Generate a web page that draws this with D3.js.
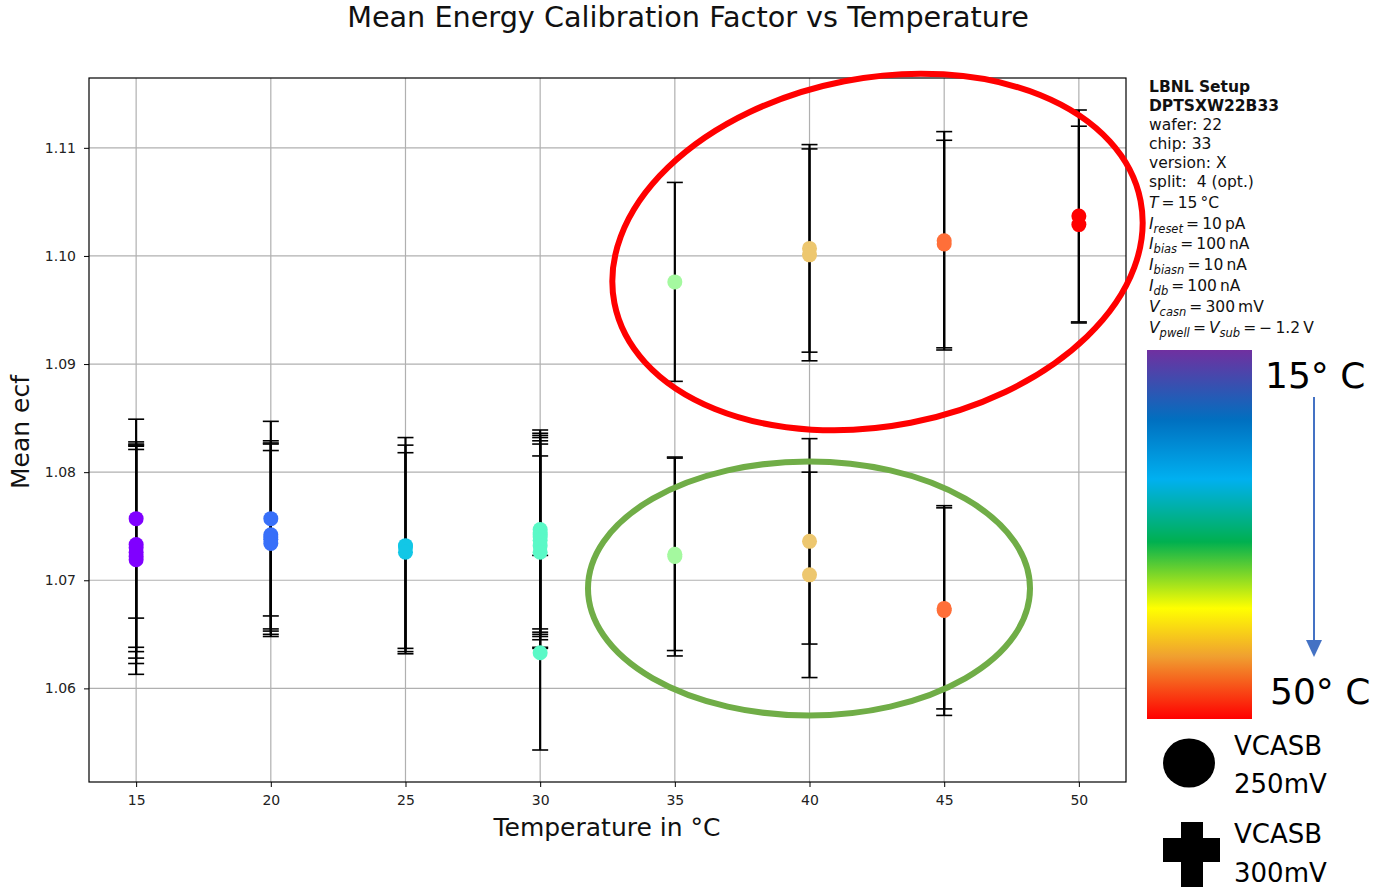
<!DOCTYPE html>
<html>
<head>
<meta charset="utf-8">
<script src="https://cdn.jsdelivr.net/npm/d3@7"></script>
<style>
body { margin: 0; background: #fff; }
#vis { width: 1376px; height: 887px; }
text { font-family: 'DejaVu Sans', sans-serif; }
</style>
</head>
<body>
<div id="vis"></div>
<script>
// measurements: one entry per error bar
var pointTemp = [15, 15, 15, 15, 15, 15,
	20, 20, 20, 20, 20,
	25, 25, 25,
	30, 30, 30, 30, 30, 30, 30, 30,
	35, 35, 35,
	40, 40, 40, 40,
	45, 45, 45, 45,
	50, 50];
var pointMean = [1.0757, 1.0733, 1.0730, 1.0726, 1.0722, 1.0719,
	1.0757, 1.0742, 1.0740, 1.0738, 1.0734,
	1.0732, 1.0731, 1.0726,
	1.0747, 1.0744, 1.0742, 1.0740, 1.0737, 1.0732, 1.0726, 1.0633,
	1.0976, 1.0724, 1.0722,
	1.1007, 1.1001, 1.0736, 1.0705,
	1.1014, 1.1011, 1.0672, 1.0674,
	1.1037, 1.1029];
var pointErr = [0.0092, 0.0095, 0.0096, 0.0098, 0.0099, 0.0106,
	0.0090, 0.0087, 0.0087, 0.0088, 0.0086,
	0.0100, 0.0094, 0.0092,
	0.0092, 0.0092, 0.0092, 0.0092, 0.0092, 0.0094, 0.0089, 0.0090,
	0.0092, 0.0089, 0.0092,
	0.0096, 0.0098, 0.0095, 0.0095,
	0.0101, 0.0096, 0.0097, 0.0093,
	0.0098, 0.0091];
var xTicks = [15, 20, 25, 30, 35, 40, 45, 50];
var yTicks = [1.06, 1.07, 1.08, 1.09, 1.10, 1.11];
var infoLines = [
	[['LBNL Setup', 'b']],
	[['DPTSXW22B33', 'b']],
	[['wafer: 22']],
	[['chip: 33']],
	[['version: X']],
	[['split:  4 (opt.)']],
	[['T', 'i'], ['\u2009=\u200915\u2009°C']],
	[['I', 'i'], ['reset', 's'], ['\u2009=\u200910\u2009pA']],
	[['I', 'i'], ['bias', 's'], ['\u2009=\u2009100\u2009nA']],
	[['I', 'i'], ['biasn', 's'], ['\u2009=\u200910\u2009nA']],
	[['I', 'i'], ['db', 's'], ['\u2009=\u2009100\u2009nA']],
	[['V', 'i'], ['casn', 's'], ['\u2009=\u2009300\u2009mV']],
	[['V', 'i'], ['pwell', 's'], ['\u2009=\u2009'], ['V', 'i'], ['sub', 's'], ['\u2009=\u2009\u2212\u20091.2\u2009V']]
];
var barStops = [[0, '#7030a0'], [0.19, '#0070c0'], [0.35, '#00b0f0'], [0.52, '#00b050'], [0.70, '#ffff00'], [0.83, '#f0a030'], [1, '#ff0000']];

var data = pointTemp.map(function(t, i) {
	return {temp: t, mean: pointMean[i], err: pointErr[i]};
});

var width = 1376, height = 887;
var svg = d3.select('#vis').append('svg').attr('width', width).attr('height', height);

// matplotlib 'rainbow' colormap
function rainbow(v) {
	var r = Math.min(1, Math.abs(2 * v - 0.5));
	var g = Math.sin(Math.PI * v);
	var b = Math.cos(Math.PI * v / 2);
	return d3.rgb(r * 255, g * 255, b * 255).formatHex();
}
var tMin = d3.min(pointTemp), tMax = d3.max(pointTemp);

// 5% margins like matplotlib
var xpad = (tMax - tMin) * 0.05;
var lo = d3.min(data, function(d) { return d.mean - d.err; });
var hi = d3.max(data, function(d) { return d.mean + d.err; });
var ypad = (hi - lo) * 0.05;
var x_scale = d3.scaleLinear().domain([tMin - xpad, tMax + xpad]).range([89, 1126]);
var y_scale = d3.scaleLinear().domain([lo - ypad, hi + ypad]).range([782, 78]);

// grid
var grid = svg.append('g');
grid.selectAll('.vg').data(xTicks).enter().append('line')
	.attr('x1', function(d) { return x_scale(d); }).attr('x2', function(d) { return x_scale(d); })
	.attr('y1', 78).attr('y2', 782).attr('stroke', '#b0b0b0').attr('stroke-width', 1.2);
grid.selectAll('.hg').data(yTicks).enter().append('line')
	.attr('y1', function(d) { return y_scale(d); }).attr('y2', function(d) { return y_scale(d); })
	.attr('x1', 89).attr('x2', 1126).attr('stroke', '#b0b0b0').attr('stroke-width', 1.2);

// axes
var x_axis = d3.axisBottom(x_scale).tickValues(xTicks).tickSize(5).tickPadding(8);
var y_axis = d3.axisLeft(y_scale).tickValues(yTicks).tickSize(5).tickPadding(8).tickFormat(d3.format('.2f'));
var gx = svg.append('g').attr('transform', 'translate(0,782)').call(x_axis);
var gy = svg.append('g').attr('transform', 'translate(89,0)').call(y_axis);
[gx, gy].forEach(function(g) {
	g.select('.domain').remove();
	g.selectAll('text').attr('font-size', 14).attr('font-family', 'DejaVu Sans').attr('fill', '#222');
	g.selectAll('line').attr('stroke', '#000');
});

// error bars
var bars = svg.append('g');
bars.selectAll('.eb').data(data).enter().append('line')
	.attr('x1', function(d) { return x_scale(d.temp); }).attr('x2', function(d) { return x_scale(d.temp); })
	.attr('y1', function(d) { return y_scale(d.mean + d.err); }).attr('y2', function(d) { return y_scale(d.mean - d.err); })
	.attr('stroke', '#000').attr('stroke-width', 2.2);
['top', 'bottom'].forEach(function(side) {
	bars.selectAll('.cap-' + side).data(data).enter().append('line')
		.attr('x1', function(d) { return x_scale(d.temp) - 8; }).attr('x2', function(d) { return x_scale(d.temp) + 8; })
		.attr('y1', function(d) { return y_scale(side == 'top' ? d.mean + d.err : d.mean - d.err); })
		.attr('y2', function(d) { return y_scale(side == 'top' ? d.mean + d.err : d.mean - d.err); })
		.attr('stroke', '#000').attr('stroke-width', 1.6);
});

// markers
svg.append('g').selectAll('circle').data(data).enter().append('circle')
	.attr('cx', function(d) { return x_scale(d.temp); })
	.attr('cy', function(d) { return y_scale(d.mean); })
	.attr('r', 7.5)
	.attr('fill', function(d) { return rainbow((d.temp - tMin) / (tMax - tMin)); });

// frame
svg.append('rect').attr('x', 89).attr('y', 78).attr('width', 1037).attr('height', 704)
	.attr('fill', 'none').attr('stroke', '#000').attr('stroke-width', 1.2);

// titles
svg.append('text').attr('x', 688).attr('y', 27).attr('text-anchor', 'middle').attr('font-size', 28.7)
	.attr('fill', '#111').text('Mean Energy Calibration Factor vs Temperature');
svg.append('text').attr('x', 607).attr('y', 836).attr('text-anchor', 'middle').attr('font-size', 25)
	.attr('fill', '#111').text('Temperature in °C');
svg.append('text').attr('transform', 'translate(29,432) rotate(-90)').attr('text-anchor', 'middle').attr('font-size', 25)
	.attr('fill', '#111').text('Mean ecf');

// info box
var info = svg.append('text').attr('font-size', 15.5).attr('fill', '#111').style('white-space', 'pre');
var ly = 92;
infoLines.forEach(function(line, i) {
	var math = line.length > 1;
	if (i > 0) ly += math ? 20.8 : 19;
	line.forEach(function(seg, j) {
		var ts = info.append('tspan').text(seg[0]);
		if (j == 0) ts.attr('x', 1149);
		if (seg[1] == 'b') ts.attr('font-weight', 'bold');
		if (seg[1] == 'i') ts.attr('font-style', 'italic');
		if (seg[1] == 's') ts.attr('font-style', 'italic').attr('font-size', 11.5).attr('y', ly + 4);
		else ts.attr('y', ly);
	});
});

// color bar
var grad = svg.append('defs').append('linearGradient').attr('id', 'cbar')
	.attr('x1', 0).attr('y1', 0).attr('x2', 0).attr('y2', 1);
grad.selectAll('stop').data(barStops).enter().append('stop')
	.attr('offset', function(d) { return d[0]; }).attr('stop-color', function(d) { return d[1]; });
svg.append('rect').attr('x', 1147).attr('y', 350).attr('width', 105).attr('height', 369).attr('fill', 'url(#cbar)');
svg.append('text').attr('x', 1265).attr('y', 388).attr('font-family', 'Lato').attr('font-size', 36).attr('fill', '#000').text('15° C');
svg.append('text').attr('x', 1270).attr('y', 704).attr('font-family', 'Lato').attr('font-size', 36).attr('fill', '#000').text('50° C');
svg.append('line').attr('x1', 1314).attr('x2', 1314).attr('y1', 397).attr('y2', 642).attr('stroke', '#4472c4').attr('stroke-width', 2);
svg.append('path').attr('d', 'M1306,640 L1322,640 L1314,657 Z').attr('fill', '#4472c4');

// marker legend
svg.append('ellipse').attr('cx', 1189).attr('cy', 763).attr('rx', 26).attr('ry', 24.5).attr('fill', '#000');
svg.append('path').attr('d', 'M1181,822 h22 v16 h17 v24 h-17 v25 h-22 v-25 h-18 v-24 h18 Z').attr('fill', '#000');
[['VCASB', 755], ['250mV', 793], ['VCASB', 843], ['300mV', 882]].forEach(function(t) {
	svg.append('text').attr('x', 1234).attr('y', t[1]).attr('font-family', 'Lato').attr('font-size', 26).attr('fill', '#000').text(t[0]);
});

// highlight ellipses
svg.append('ellipse').attr('cx', 877.5).attr('cy', 252).attr('rx', 268).attr('ry', 174)
	.attr('transform', 'rotate(-11,877.5,252)')
	.attr('fill', 'none').attr('stroke', '#ff0000').attr('stroke-width', 6);
svg.append('ellipse').attr('cx', 809).attr('cy', 588.5).attr('rx', 221).attr('ry', 127)
	.attr('fill', 'none').attr('stroke', '#70ad47').attr('stroke-width', 6);
</script>
</body>
</html>
